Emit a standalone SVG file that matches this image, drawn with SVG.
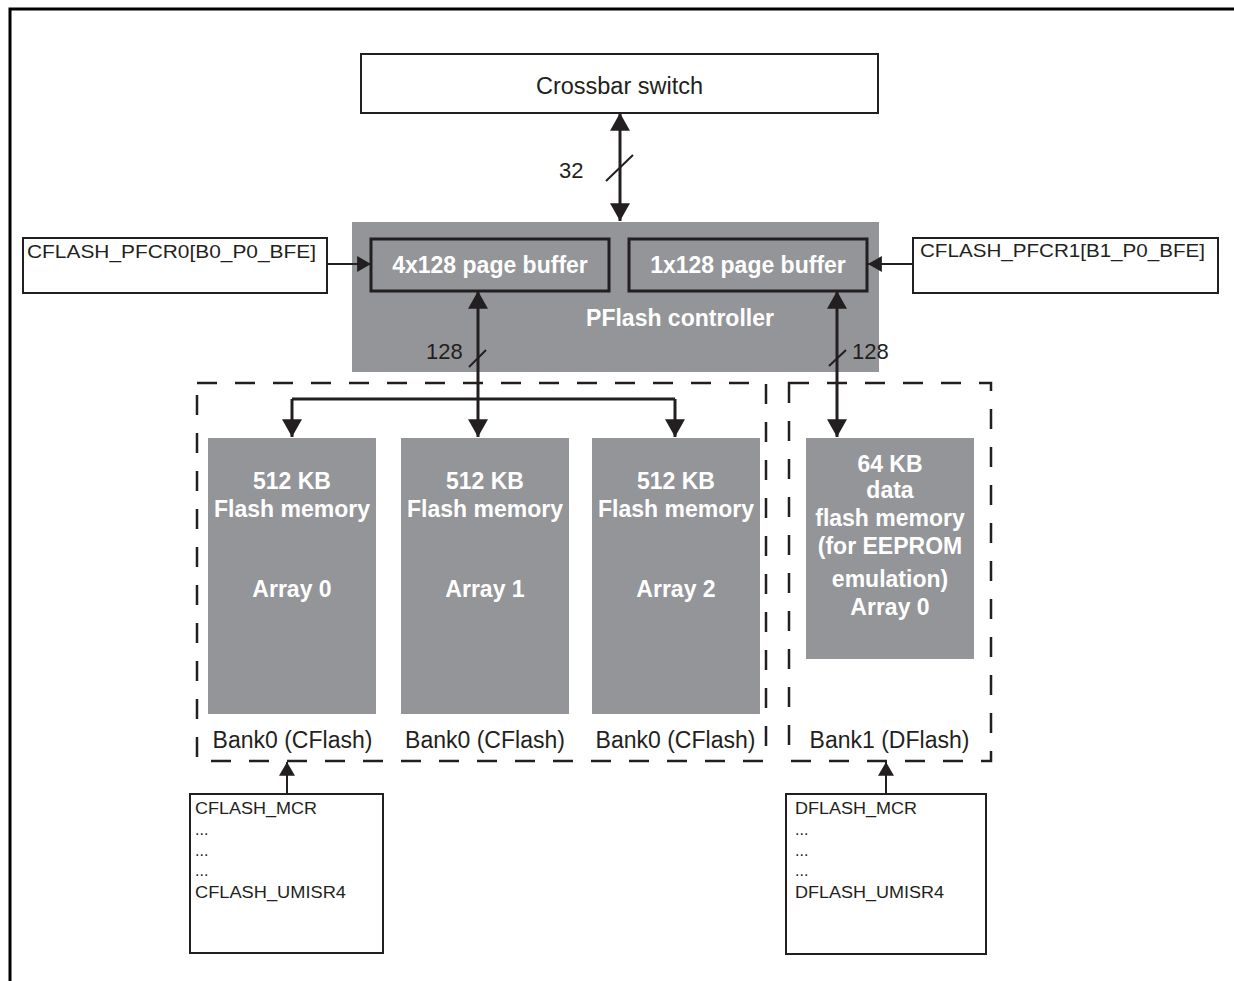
<svg xmlns="http://www.w3.org/2000/svg" width="1234" height="981" viewBox="0 0 1234 981">
<style>
.t{font-family:"Liberation Sans",Arial,sans-serif;fill:#231f20}
.w{font-family:"Liberation Sans",Arial,sans-serif;fill:#ffffff;font-weight:bold;font-size:23px;text-anchor:middle}
.box{fill:#ffffff;stroke:#231f20;stroke-width:2}
.gray{fill:#939598;stroke:none}
.buf{fill:#939598;stroke:#231f20;stroke-width:3}
.dash{fill:none;stroke:#231f20;stroke-width:2.5;stroke-dasharray:20 18}
.ln{fill:none;stroke:#231f20;stroke-width:3}
.sl{fill:none;stroke:#231f20;stroke-width:2}
.big{marker-end:url(#ah)}
.sm{marker-end:url(#as)}
</style>
<defs>
<marker id="ah" markerUnits="userSpaceOnUse" markerWidth="18" markerHeight="20" refX="16" refY="9" orient="auto-start-reverse" viewBox="0 0 16 18">
<path d="M0,0 L16,9 L0,18 z" fill="#231f20"/>
</marker>
<marker id="as" markerUnits="userSpaceOnUse" markerWidth="14" markerHeight="16" refX="13" refY="7.5" orient="auto-start-reverse" viewBox="0 0 13 15">
<path d="M0,0 L13,7.5 L0,15 z" fill="#231f20"/>
</marker>
</defs>

<path d="M10,981 V9 H1234" fill="none" stroke="#000" stroke-width="3"/>

<g id="crossbar">
<rect class="box" x="361" y="54" width="517" height="59"/>
<text class="t" x="619.5" y="94" font-size="23.5" text-anchor="middle">Crossbar switch</text>
</g>

<g id="pflash-controller">
<rect class="gray" x="352" y="222" width="527" height="150"/>
<text class="w" x="680" y="326">PFlash controller</text>
</g>

<g id="buffer4x128">
<rect class="buf" x="371" y="239" width="238" height="52"/>
<text class="w" x="490" y="273">4x128 page buffer</text>
</g>

<g id="buffer1x128">
<rect class="buf" x="629" y="239" width="238" height="52"/>
<text class="w" x="748" y="273">1x128 page buffer</text>
</g>

<g id="pfcr0">
<rect class="box" x="23" y="238" width="304" height="55"/>
<text class="t" x="27" y="258" font-size="18" textLength="289" lengthAdjust="spacingAndGlyphs">CFLASH_PFCR0[B0_P0_BFE]</text>
</g>

<g id="pfcr1">
<rect class="box" x="913" y="238" width="305" height="55"/>
<text class="t" x="920" y="257" font-size="18" textLength="285" lengthAdjust="spacingAndGlyphs">CFLASH_PFCR1[B1_P0_BFE]</text>
</g>

<g id="bank0">
<rect class="dash" x="197" y="383" width="569" height="378"/>
</g>

<g id="bank1">
<rect class="dash" x="789" y="383" width="202" height="378"/>
<text class="t" x="889.5" y="748" font-size="23" text-anchor="middle">Bank1 (DFlash)</text>
</g>

<g id="array0">
<rect class="gray" x="208" y="438" width="168" height="276"/>
<text class="w" x="292" y="489">512 KB</text>
<text class="w" x="292" y="517">Flash memory</text>
<text class="w" x="292" y="597">Array 0</text>
<text class="t" x="292.5" y="748" font-size="23" text-anchor="middle">Bank0 (CFlash)</text>
</g>

<g id="array1">
<rect class="gray" x="401" y="438" width="168" height="276"/>
<text class="w" x="485" y="489">512 KB</text>
<text class="w" x="485" y="517">Flash memory</text>
<text class="w" x="485" y="597">Array 1</text>
<text class="t" x="485" y="748" font-size="23" text-anchor="middle">Bank0 (CFlash)</text>
</g>

<g id="array2">
<rect class="gray" x="592" y="438" width="168" height="276"/>
<text class="w" x="676" y="489">512 KB</text>
<text class="w" x="676" y="517">Flash memory</text>
<text class="w" x="676" y="597">Array 2</text>
<text class="t" x="675.5" y="748" font-size="23" text-anchor="middle">Bank0 (CFlash)</text>
</g>

<g id="dflash-array0">
<rect class="gray" x="806" y="438" width="168" height="221"/>
<text class="w" x="890" y="472">64 KB</text>
<text class="w" x="890" y="498">data</text>
<text class="w" x="890" y="526">flash memory</text>
<text class="w" x="890" y="554">(for EEPROM</text>
<text class="w" x="890" y="587">emulation)</text>
<text class="w" x="890" y="615">Array 0</text>
</g>

<g id="cflash-regs">
<rect class="box" x="190" y="794" width="193" height="159"/>
<text class="t" x="195" y="814" font-size="16" textLength="122" lengthAdjust="spacingAndGlyphs">CFLASH_MCR</text>
<text class="t" x="195" y="835" font-size="16">...</text>
<text class="t" x="195" y="856" font-size="16">...</text>
<text class="t" x="195" y="876" font-size="16">...</text>
<text class="t" x="195" y="898" font-size="16" textLength="151" lengthAdjust="spacingAndGlyphs">CFLASH_UMISR4</text>
</g>

<g id="dflash-regs">
<rect class="box" x="786" y="794" width="200" height="160"/>
<text class="t" x="795" y="814" font-size="16" textLength="122" lengthAdjust="spacingAndGlyphs">DFLASH_MCR</text>
<text class="t" x="795" y="835" font-size="16">...</text>
<text class="t" x="795" y="856" font-size="16">...</text>
<text class="t" x="795" y="876" font-size="16">...</text>
<text class="t" x="795" y="898" font-size="16" textLength="149" lengthAdjust="spacingAndGlyphs">DFLASH_UMISR4</text>
</g>

<g id="connectors">
<path class="ln big" d="M620,113 V221" marker-start="url(#ah)"/>
<path class="sl" d="M606,181 L633,155"/>
<text class="t" x="559" y="178" font-size="22">32</text>

<path class="ln big" d="M478,291 V437" marker-start="url(#ah)"/>
<path class="ln" d="M292,399 H675"/>
<path class="ln big" d="M292,399 V437"/>
<path class="ln big" d="M675,399 V437"/>
<path class="sl" d="M469,367 L486,350"/>
<text class="t" x="426" y="359" font-size="22">128</text>

<path class="ln big" d="M837,291 V437" marker-start="url(#ah)"/>
<path class="sl" d="M829,366 L846,350"/>
<text class="t" x="852" y="359" font-size="22">128</text>

<path class="sl sm" d="M327,264 H371"/>
<path class="sl sm" d="M913,264 H868"/>
<path class="sl sm" d="M287,794 V762"/>
<path class="sl sm" d="M886,794 V762"/>
</g>
</svg>
